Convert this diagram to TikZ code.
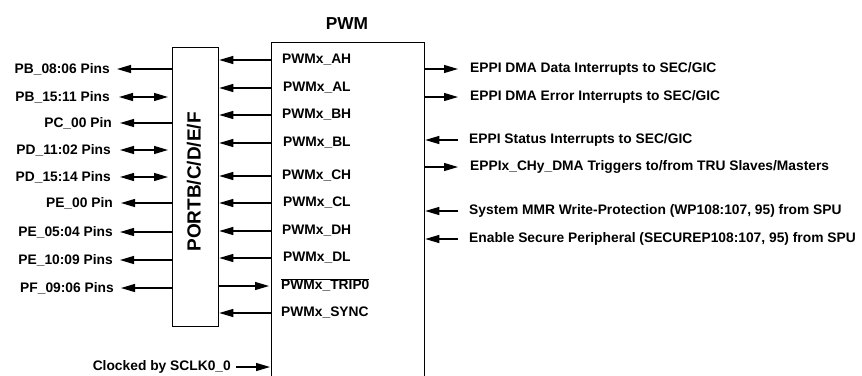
\documentclass[tikz,border=0pt]{standalone}
\usepackage{fontspec}
\setmainfont{Liberation Sans}
\usetikzlibrary{arrows.meta}
\begin{document}
\begin{tikzpicture}[x=1pt,y=-1pt,
  font=\fontsize{13.8}{16}\selectfont\bfseries,
  box/.style={draw,line width=1.3pt,inner sep=0pt,anchor=north west},
  lbl/.style={inner sep=0pt},
  lab/.style={lbl,anchor=east},
  rlab/.style={lbl,anchor=west},
  sig/.style={line width=1.2pt},
  ar/.style={sig,-{Triangle[length=14pt,width=8pt]}},
  bar/.style={sig,{Triangle[length=14pt,width=8pt]}-{Triangle[length=14pt,width=8pt]},shorten >=4pt},
]
\useasboundingbox (0,0) rectangle (862,375);
% boxes
\node[box,minimum width=153pt,minimum height=345pt] (pwm) at (271,42) {};
\node[lbl,font=\fontsize{17.3}{20}\selectfont\bfseries] (title) at (347,24) {PWM};
\node[box,minimum width=46pt,minimum height=279pt] (port) at (172,47) {};
\node[lbl,rotate=90,font=\fontsize{19}{22}\selectfont\bfseries] (portlbl) at (194,182) {PORTB/C/D/E/F};
% left pin labels
\node[lab] (p1) at (110,69) {PB\_08:06 Pins};
\node[lab] (p2) at (110,97) {PB\_15:11 Pins};
\node[lab] (p3) at (112,123) {PC\_00 Pin};
\node[lab] (p4) at (111,150) {PD\_11:02 Pins};
\node[lab] (p5) at (111,177) {PD\_15:14 Pins};
\node[lab] (p6) at (113,203) {PE\_00 Pin};
\node[lab] (p7) at (113,232) {PE\_05:04 Pins};
\node[lab] (p8) at (113,260) {PE\_10:09 Pins};
\node[lab] (p9) at (114,288) {PF\_09:06 Pins};
\draw[ar] (port.west |- p1) -- ([xshift=7pt]p1.east);
\draw[bar] ([xshift=9pt]p2.east) -- (port.west |- p2);
\draw[ar] (port.west |- p3) -- ([xshift=8pt]p3.east);
\draw[bar] ([xshift=9pt]p4.east) -- (port.west |- p4);
\draw[bar] ([xshift=9pt]p5.east) -- (port.west |- p5);
\draw[ar] (port.west |- p6) -- ([xshift=8pt]p6.east);
\draw[ar] (port.west |- p7) -- ([xshift=7pt]p7.east);
\draw[ar] (port.west |- p8) -- ([xshift=7pt]p8.east);
\draw[ar] (port.west |- p9) -- ([xshift=7pt]p9.east);
% PWM signal labels
\node[rlab] (ah) at (282,60) {PWMx\_AH};
\node[rlab] (al) at (283,88) {PWMx\_AL};
\node[rlab] (bh) at (282,115) {PWMx\_BH};
\node[rlab] (bl) at (283,143) {PWMx\_BL};
\node[rlab] (ch) at (282,176) {PWMx\_CH};
\node[rlab] (cl) at (283,203) {PWMx\_CL};
\node[rlab] (dh) at (282,231) {PWMx\_DH};
\node[rlab] (dl) at (283,258) {PWMx\_DL};
\node[rlab] (trip) at (281,285) {$\overline{\hbox{PWMx\_TRIP0}}$};
\node[rlab] (sync) at (281,313) {PWMx\_SYNC};
\foreach \s in {ah,al,bh,bl,ch,cl,dh,dl,sync}
  \draw[ar] (pwm.west |- \s) -- (port.east |- \s);
\draw[ar] (port.east |- 0,286) coordinate (t0) -- ([xshift=-2pt]pwm.west |- t0);
% clock
\node[lab] (clk) at (231,367) {Clocked by SCLK0\_0};
\draw[ar] ([xshift=5pt]clk.east) -- ([xshift=-1pt]pwm.west |- clk);
% right side
\node[rlab] (r1) at (470,69) {EPPI DMA Data Interrupts to SEC/GIC};
\node[rlab] (r2) at (470,97) {EPPI DMA Error Interrupts to SEC/GIC};
\node[rlab] (r3) at (469,140) {EPPI Status Interrupts to SEC/GIC};
\node[rlab] (r4) at (470,167) {EPPIx\_CHy\_DMA Triggers to/from TRU Slaves/Masters};
\node[rlab] (r5) at (469,211) {System MMR Write-Protection (WP108:107, 95) from SPU};
\node[rlab] (r6) at (469,239) {Enable Secure Peripheral (SECUREP108:107, 95) from SPU};
\draw[ar] (pwm.east |- r1) -- ([xshift=-12pt]r1.west);
\draw[ar] (pwm.east |- r2) -- ([xshift=-12pt]r2.west);
\draw[ar] ([xshift=-11pt]r3.west) -- (pwm.east |- r3);
\draw[ar] (pwm.east |- r4) -- ([xshift=-12pt]r4.west);
\draw[ar] ([xshift=-11pt]r5.west) -- (pwm.east |- r5);
\draw[ar] ([xshift=-11pt]r6.west) -- (pwm.east |- r6);
\end{tikzpicture}
\end{document}
